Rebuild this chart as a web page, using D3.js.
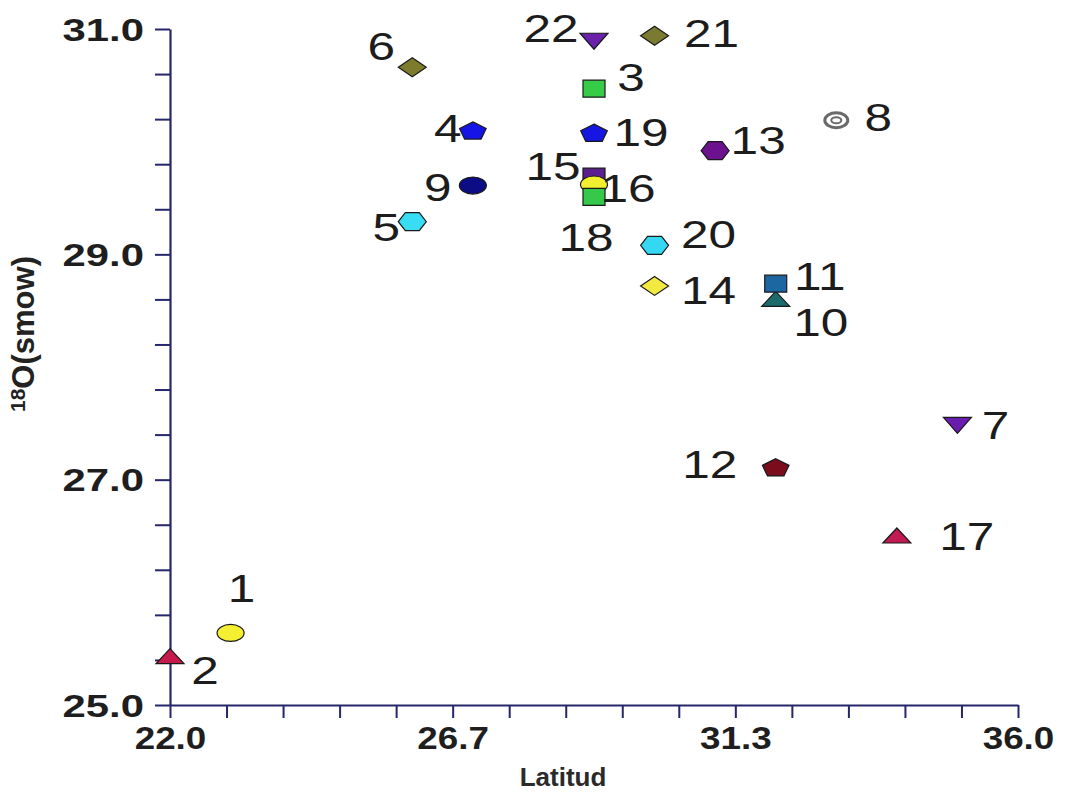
<!DOCTYPE html>
<html>
<head>
<meta charset="utf-8">
<script src="https://cdn.jsdelivr.net/npm/d3@7/dist/d3.min.js"></script>
<style>
  html, body { margin: 0; padding: 0; background: #ffffff; }
  svg { display: block; }
</style>
</head>
<body>
<svg id="chart" width="1067" height="793"></svg>
<script>
// ---- data ----
const ids      = [1, 2, 3, 4, 5, 6, 7, 8, 9, 10, 11, 12, 13, 14, 15, 16, 17, 18, 19, 20, 21, 22];
const latitud  = [23, 22, 29, 27, 26, 26, 35, 33, 27, 32, 32, 32, 31, 30, 29, 29, 34, 29, 29, 30, 30, 29];
const o18      = [25.64, 25.43, 30.47, 30.10, 29.29, 30.66, 27.49, 30.19, 29.61, 28.60, 28.74, 27.11,
                  29.92, 28.72, 29.69, 29.62, 26.50, 29.51, 30.08, 29.08, 30.94, 30.90];
const xTickLabels = ["22.0", "26.7", "31.3", "36.0"];
const yTickLabels = ["25.0", "27.0", "29.0", "31.0"];

// ---- styles (marker shape / colour per sample, label placement) ----
const shapes = ["ellipse", "triUp", "square", "pentagon", "hexagon", "diamond", "triDown", "target",
                "ellipse", "triUp", "square", "pentagon", "hexagon", "diamond", "square", "ellipse",
                "triUp", "square", "pentagon", "hexagon", "diamond", "triDown"];
const colors = ["#f4ef30", "#c41a4c", "#36cc48", "#1414e6", "#38dcf4", "#7c7c2c", "#6a1cae", "#ffffff",
                "#0c0c84", "#1c6a6c", "#1c66a2", "#7a0c1c", "#6c128e", "#f2ea40", "#5a2090", "#f2ee30",
                "#c21a52", "#36c84a", "#1616e2", "#34d8f2", "#7a7a30", "#6a20aa"];
const labelDx = [11, 35, 37, -25, -26, -31, 38, 42, -35, 45, 44, -66, 43, 54, -41, 34, 70, -8, 47, 54, 57, -43];
const labelDy = [-45, 13, -12, -2, 5, -21, 1, -3, 1, 23, -8, -3, -11, 4, -11, 4, 0, 40, -1, -11, -3, -12];

const points = ids.map((id, i) => ({ id, lat: latitud[i], v: o18[i], shape: shapes[i], color: colors[i], dx: labelDx[i], dy: labelDy[i] }));

// ---- scales ----
const svg = d3.select("#chart");
const x = d3.scaleLinear().domain([22, 36]).range([170, 1018]);
const y = d3.scaleLinear().domain([25, 31]).range([705, 29]);

const axisColor = "#26266a";
const xTicks = d3.range(16).map(i => 22 + i * 14 / 15);
const yTicks = d3.range(16).map(i => 25 + i * 0.4);

// ---- x axis ----
const gx = svg.append("g").attr("transform", `translate(0,${y(25)})`)
  .call(d3.axisBottom(x).tickValues(xTicks).tickSize(13).tickSizeOuter(0)
        .tickFormat((d, i) => i % 5 === 0 ? xTickLabels[i / 5] : ""));
gx.select(".domain").attr("stroke", axisColor).attr("stroke-width", 2.2);
gx.selectAll(".tick line").attr("stroke", axisColor).attr("stroke-width", 2);
gx.selectAll(".tick text")
  .attr("fill", "#1e1e1e").attr("font-family", "Liberation Sans, Arial, sans-serif")
  .attr("font-weight", "bold").attr("font-size", 32)
  .attr("y", 0).attr("dy", 0)
  .attr("transform", "translate(0,44) scale(1.15,1)");

// ---- y axis ----
const gy = svg.append("g").attr("transform", `translate(${x(22)},0)`)
  .call(d3.axisLeft(y).tickValues(yTicks).tickSize(15).tickSizeOuter(0)
        .tickFormat((d, i) => i % 5 === 0 ? yTickLabels[i / 5] : ""));
gy.select(".domain").attr("stroke", axisColor).attr("stroke-width", 2.2);
gy.selectAll(".tick line").attr("stroke", axisColor).attr("stroke-width", 2);
gy.selectAll(".tick text")
  .attr("fill", "#1e1e1e").attr("font-family", "Liberation Sans, Arial, sans-serif")
  .attr("font-weight", "bold").attr("font-size", 31)
  .attr("x", 0).attr("dy", 0).attr("text-anchor", "end")
  .attr("transform", "translate(-26,11) scale(1.35,1)");

// ---- axis titles ----
svg.append("text")
  .attr("x", 563).attr("y", 786)
  .attr("text-anchor", "middle")
  .attr("font-family", "Liberation Sans, Arial, sans-serif")
  .attr("font-weight", "bold").attr("font-size", 26).attr("fill", "#2a2a2a")
  .text("Latitud");

const yt = svg.append("text")
  .attr("transform", "translate(34,334) rotate(-90)")
  .attr("text-anchor", "middle")
  .attr("font-family", "Liberation Sans, Arial, sans-serif")
  .attr("font-weight", "bold").attr("font-size", 31).attr("fill", "#222");
yt.append("tspan").attr("font-size", 21).attr("dy", -9).text("18");
yt.append("tspan").attr("dy", 9).text("O(smow)");

// ---- marker shapes ----
function poly(pts) { return "M" + pts.map(p => p.join(",")).join("L") + "Z"; }
function shapePath(s) {
  switch (s) {
    case "triUp":   return poly([[0, -8], [14, 7], [-14, 7]]);
    case "triDown": return poly([[-14, -7], [14, -7], [0, 9]]);
    case "square":  return poly([[-11, -8.5], [11, -8.5], [11, 8.5], [-11, 8.5]]);
    case "diamond": return poly([[0, -9.5], [14, 0], [0, 9.5], [-14, 0]]);
    case "hexagon": return poly([[-14, 0], [-7, -9], [7, -9], [14, 0], [7, 9], [-7, 9]]);
    case "pentagon": {
      const pts = d3.range(5).map(k => {
        const a = (-90 + 72 * k) * Math.PI / 180;
        return [14 * Math.cos(a), 1 + 9.5 * Math.sin(a)];
      });
      return poly(pts);
    }
    default: return null;
  }
}

const gPts = svg.append("g");
points.forEach(p => {
  const g = gPts.append("g").attr("transform", `translate(${x(p.lat)},${y(p.v)})`);
  if (p.shape === "ellipse") {
    g.append("ellipse").attr("rx", 13.5).attr("ry", 8.5)
      .attr("fill", p.color).attr("stroke", "#1a1a1a").attr("stroke-width", 1.2);
  } else if (p.shape === "target") {
    g.append("ellipse").attr("rx", 11.5).attr("ry", 7.5)
      .attr("fill", "#ffffff").attr("stroke", "#6a6a6a").attr("stroke-width", 3);
    g.append("ellipse").attr("rx", 5).attr("ry", 3)
      .attr("fill", "#ffffff").attr("stroke", "#6a6a6a").attr("stroke-width", 2);
  } else {
    g.append("path").attr("d", shapePath(p.shape))
      .attr("fill", p.color).attr("stroke", "#1a1a1a").attr("stroke-width", 1.2);
  }
});

// ---- point labels ----
svg.append("g").selectAll("text").data(points).join("text")
  .attr("transform", d => `translate(${x(d.lat) + d.dx},${y(d.v) + d.dy + 14}) scale(1.27,1)`)
  .attr("text-anchor", "middle")
  .attr("font-family", "Liberation Sans, Arial, sans-serif")
  .attr("font-size", 39).attr("fill", "#1c1c1c")
  .text(d => d.id);
</script>
</body>
</html>
